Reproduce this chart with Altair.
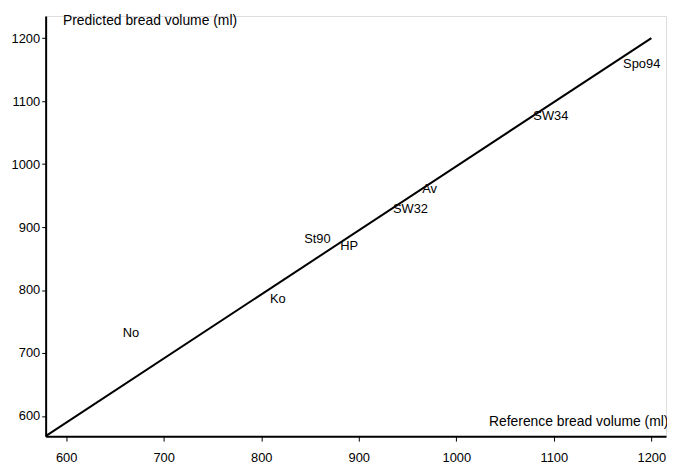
import altair as alt
import pandas as pd

# Cultivar labels and their (reference, predicted) bread volumes (ml)
labels = ["Spo94", "SW34", "Av", "SW32", "St90", "HP", "Ko", "No"]
reference = [1171, 1079, 965, 935, 844, 881, 809, 658]
predicted = [1159, 1076, 961, 928, 881, 870, 786, 731]

# Fitted line end points
line_x = [579, 1200]
line_y = [568, 1200]

x_ticks = [600, 700, 800, 900, 1000, 1100, 1200]
y_ticks = [600, 700, 800, 900, 1000, 1100, 1200]

pts = pd.DataFrame({"label": labels, "ref": reference, "pred": predicted})
ln = pd.DataFrame({"ref": line_x, "pred": line_y})

FONT = "Liberation Sans"
xs = alt.Scale(domain=[579, 1215], nice=False, zero=False)
ys = alt.Scale(domain=[568, 1235], nice=False, zero=False)

xaxis = alt.Axis(values=x_ticks, format="d", grid=False, title="Reference bread volume (ml)",
                 titleAngle=0, titleAlign="right", titleBaseline="middle",
                 titleX=628, titleY=-15, titleFont=FONT, titleFontSize=14,
                 titleFontWeight="normal", titleColor="black",
                 labelFont=FONT, labelFontSize=13, labelColor="black",
                 labelPadding=11, tickSize=5, tickColor="black",
                 domainColor="black", domainWidth=2)
yaxis = alt.Axis(values=y_ticks, format="d", grid=False, title="Predicted bread volume (ml)",
                 titleAngle=0, titleAlign="left", titleBaseline="middle",
                 titleX=17, titleY=5, titleFont=FONT, titleFontSize=14,
                 titleFontWeight="normal", titleColor="black",
                 labelFont=FONT, labelFontSize=13, labelColor="black",
                 labelPadding=2, tickSize=4, tickColor="black",
                 domainColor="black", domainWidth=2)

line = alt.Chart(ln).mark_line(color="black", strokeWidth=2).encode(
    x=alt.X("ref:Q", scale=xs, axis=xaxis),
    y=alt.Y("pred:Q", scale=ys, axis=yaxis),
)
text = alt.Chart(pts).mark_text(align="left", baseline="middle", font=FONT,
                                fontSize=13, color="black").encode(
    x=alt.X("ref:Q", scale=xs),
    y=alt.Y("pred:Q", scale=ys),
    text="label:N",
)

chart = (line + text).properties(
    width=626, height=424,
    autosize=alt.AutoSizeParams(type="none"),
    padding={"left": 38, "top": 6, "right": 1, "bottom": 28},
).configure_view(stroke=None).configure(background="white")

chart.save("out.html", embed_options={"renderer": "svg", "actions": False})
